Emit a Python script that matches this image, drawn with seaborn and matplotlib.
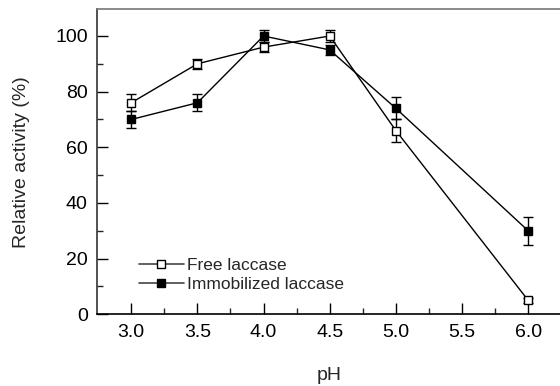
import matplotlib
matplotlib.use("Agg")
import matplotlib.pyplot as plt
from matplotlib.ticker import MultipleLocator, FixedLocator, FormatStrFormatter
from matplotlib.lines import Line2D
import seaborn as sns
import pandas as pd

ph = [3.0, 3.5, 4.0, 4.5, 5.0, 6.0]
free = [76, 90, 96, 100, 66, 5]
free_err = [3, 1.8, 1.9, 2, 4, 1]
immob = [70, 76, 100, 95, 74, 30]
immob_err = [3, 3, 2, 1.8, 4, 5]
series_names = ["Free laccase", "Immobilized laccase"]
x_ticks = [3.0, 3.5, 4.0, 4.5, 5.0, 5.5, 6.0]

sns.set_theme(style="ticks")
plt.rcParams['font.family'] = ['Liberation Sans', 'DejaVu Sans']

fig = plt.figure(figsize=(5.6, 3.86), dpi=100)
ax = fig.add_axes([0.174, 0.1857, 0.826, 0.791])

handles = []
for name, vals, errs, face in [(series_names[0], free, free_err, "white"),
                               (series_names[1], immob, immob_err, "black")]:
    ax.errorbar(ph, vals, yerr=errs, fmt="none", ecolor="black",
                elinewidth=1.0, capsize=3.8, capthick=1.0, zorder=2)
    d = pd.DataFrame({"pH": ph, "activity": vals})
    sns.lineplot(data=d, x="pH", y="activity", color="black", marker="s",
                 markersize=6, markerfacecolor=face, markeredgecolor="black",
                 markeredgewidth=1.0, linewidth=1.0, ax=ax, zorder=3)
    handles.append(Line2D([], [], color="#444444", lw=1.2, marker="s", markersize=6,
                          markerfacecolor=face, markeredgecolor="black"))

ax.legend(handles, series_names, loc="lower left", bbox_to_anchor=(0.248, 0.243),
          bbox_transform=fig.transFigure,
          frameon=False, fontsize=12.5, handlelength=2.6, handletextpad=0.2,
          labelspacing=0.25, borderaxespad=0, borderpad=0)

ax.set_xlim(2.745, 6.24)
ax.set_ylim(0, 109.7)
ax.xaxis.set_major_locator(FixedLocator(x_ticks))
ax.xaxis.set_minor_locator(FixedLocator([3.25, 3.75, 4.25, 4.75, 5.25, 5.75]))
ax.yaxis.set_major_locator(MultipleLocator(20))
ax.yaxis.set_minor_locator(MultipleLocator(10))
ax.xaxis.set_major_formatter(FormatStrFormatter("%.1f"))
ax.tick_params(which="major", direction="in", length=8, width=1, labelsize=14,
               colors="black", pad=7)
ax.tick_params(which="minor", direction="in", length=4, width=1)

for s in ["left", "bottom", "top"]:
    ax.spines[s].set_color("black")
    ax.spines[s].set_linewidth(1.2)
ax.spines["top"].set_color("#777777")
ax.spines["left"].set_color("#333333")
ax.spines["right"].set_visible(False)

ax.set_xlabel("pH", fontsize=14, labelpad=19)
ax.set_ylabel("Relative activity (%)", fontsize=14, labelpad=18)

fig.savefig("out.png", dpi=100)
